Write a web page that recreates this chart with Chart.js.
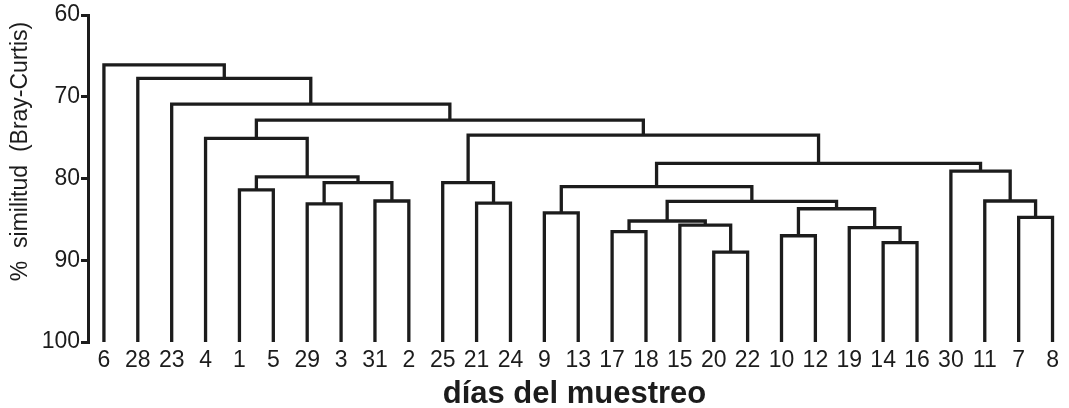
<!DOCTYPE html>
<html>
<head>
<meta charset="utf-8">
<script src="https://cdn.jsdelivr.net/npm/chart.js@4.4.1/dist/chart.umd.min.js"></script>
<style>
  html, body { margin: 0; padding: 0; background: #fff; }
  #wrap { width: 1069px; height: 408px; }
</style>
</head>
<body>
<div id="wrap"><canvas id="dendro"></canvas></div>
<script>
// leaf order along the bottom (sampling days)
const leaves = ['6', '28', '23', '4', '1', '5', '29', '3', '31', '2', '25', '21', '24', '9', '13',
                '17', '18', '15', '20', '22', '10', '12', '19', '14', '16', '30', '11', '7', '8'];

// merges: left child, right child, % similarity where they join ('nK' = merge K)
const mergeLeft   = ['1',  '29', '31', 'n1', 'n0', '4',  '21', '25', '9',  '17', '20', '15', 'n9', '10',
                     '14', '19', 'n13', 'n12', 'n8', '7',  '11', '30', 'n18', 'n7', 'n5', '23', '28', '6'];
const mergeRight  = ['5',  '3',  '2',  'n2', 'n3', 'n4', '24', 'n6', '13', '18', '22', 'n10', 'n11', '12',
                     '16', 'n14', 'n15', 'n16', 'n17', '8', 'n19', 'n20', 'n21', 'n22', 'n23', 'n24', 'n25', 'n26'];
const mergeHeight = [81.4, 83.1, 82.75, 80.5, 79.8, 75.1, 83.0, 80.5, 84.2, 86.5, 89.0, 85.7, 85.2, 87.0,
                     87.85, 86.0, 83.7, 82.8, 81.0, 84.75, 82.75, 79.1, 78.15, 74.7, 72.85, 70.9, 67.75, 66.1];

const yTicks = [60, 70, 80, 90, 100];
const yTitle = '%  similitud  (Bray-Curtis)';

const INK = '#1c1c1c';
const FONT = "'Liberation Sans', Arial, sans-serif";

// --- Build the U-shaped links ---
const pos = {};
leaves.forEach((l, i) => { pos[l] = { x: i, y: 100 }; });

const datasets = mergeLeft.map((a, k) => {
    const L = pos[a];
    const R = pos[mergeRight[k]];
    const h = mergeHeight[k];
    pos['n' + k] = { x: (L.x + R.x) / 2, y: h };
    return {
        data: [{ x: L.x, y: L.y }, { x: L.x, y: h }, { x: R.x, y: h }, { x: R.x, y: R.y }],
        showLine: true,
        borderColor: INK,
        borderWidth: 3.3,
        borderJoinStyle: 'miter',
        pointRadius: 0,
        pointHoverRadius: 0,
        fill: false,
        tension: 0,
        clip: false,
    };
});

// reversed axis flips Chart.js' title alignment, so the y title is drawn here,
// sitting a bit above the middle of the axis like the original
const yTitlePlugin = {
    id: 'yTitle',
    afterDraw(chart) {
        const { ctx, chartArea } = chart;
        ctx.save();
        ctx.translate(21, (chartArea.top + chartArea.bottom) / 2 - 27);
        ctx.rotate(-Math.PI / 2);
        ctx.font = `23px ${FONT}`;
        ctx.fillStyle = INK;
        ctx.textAlign = 'center';
        ctx.textBaseline = 'middle';
        ctx.fillText(yTitle, 0, 0);
        ctx.restore();
    }
};

new Chart(document.getElementById('dendro'), {
    type: 'scatter',
    data: { datasets },
    plugins: [yTitlePlugin],
    options: {
        responsive: true,
        maintainAspectRatio: false,
        animation: false,
        layout: { padding: { top: 15, right: 8, left: 0, bottom: 0 } },
        plugins: { legend: { display: false }, tooltip: { enabled: false } },
        scales: {
            x: {
                type: 'linear',
                min: -0.47,
                max: 28.25,
                afterBuildTicks: scale => { scale.ticks = leaves.map((_, i) => ({ value: i })); },
                afterFit: scale => { scale.height = 66; },
                grid: { display: false, drawTicks: false },
                border: { display: false },
                ticks: {
                    autoSkip: false,
                    maxRotation: 0,
                    padding: 5,
                    color: INK,
                    font: { family: FONT, size: 23 },
                    callback: v => leaves[v] ?? '',
                },
                title: {
                    display: true,
                    text: 'días del muestreo',
                    color: INK,
                    font: { family: FONT, size: 31, weight: 'bold', lineHeight: 0.9 },
                    padding: { top: 0, bottom: 0 },
                },
            },
            y: {
                reverse: true,
                min: 60,
                max: 100,
                afterBuildTicks: scale => { scale.ticks = yTicks.map(v => ({ value: v })); },
                afterFit: scale => { scale.width = 88; },
                grid: { drawOnChartArea: false, drawTicks: true, tickLength: 7, color: INK, lineWidth: 3 },
                border: { display: true, color: INK, width: 3 },
                ticks: {
                    padding: 1,
                    color: INK,
                    font: { family: FONT, size: 23 },
                },
            },
        },
    },
});
</script>
</body>
</html>
